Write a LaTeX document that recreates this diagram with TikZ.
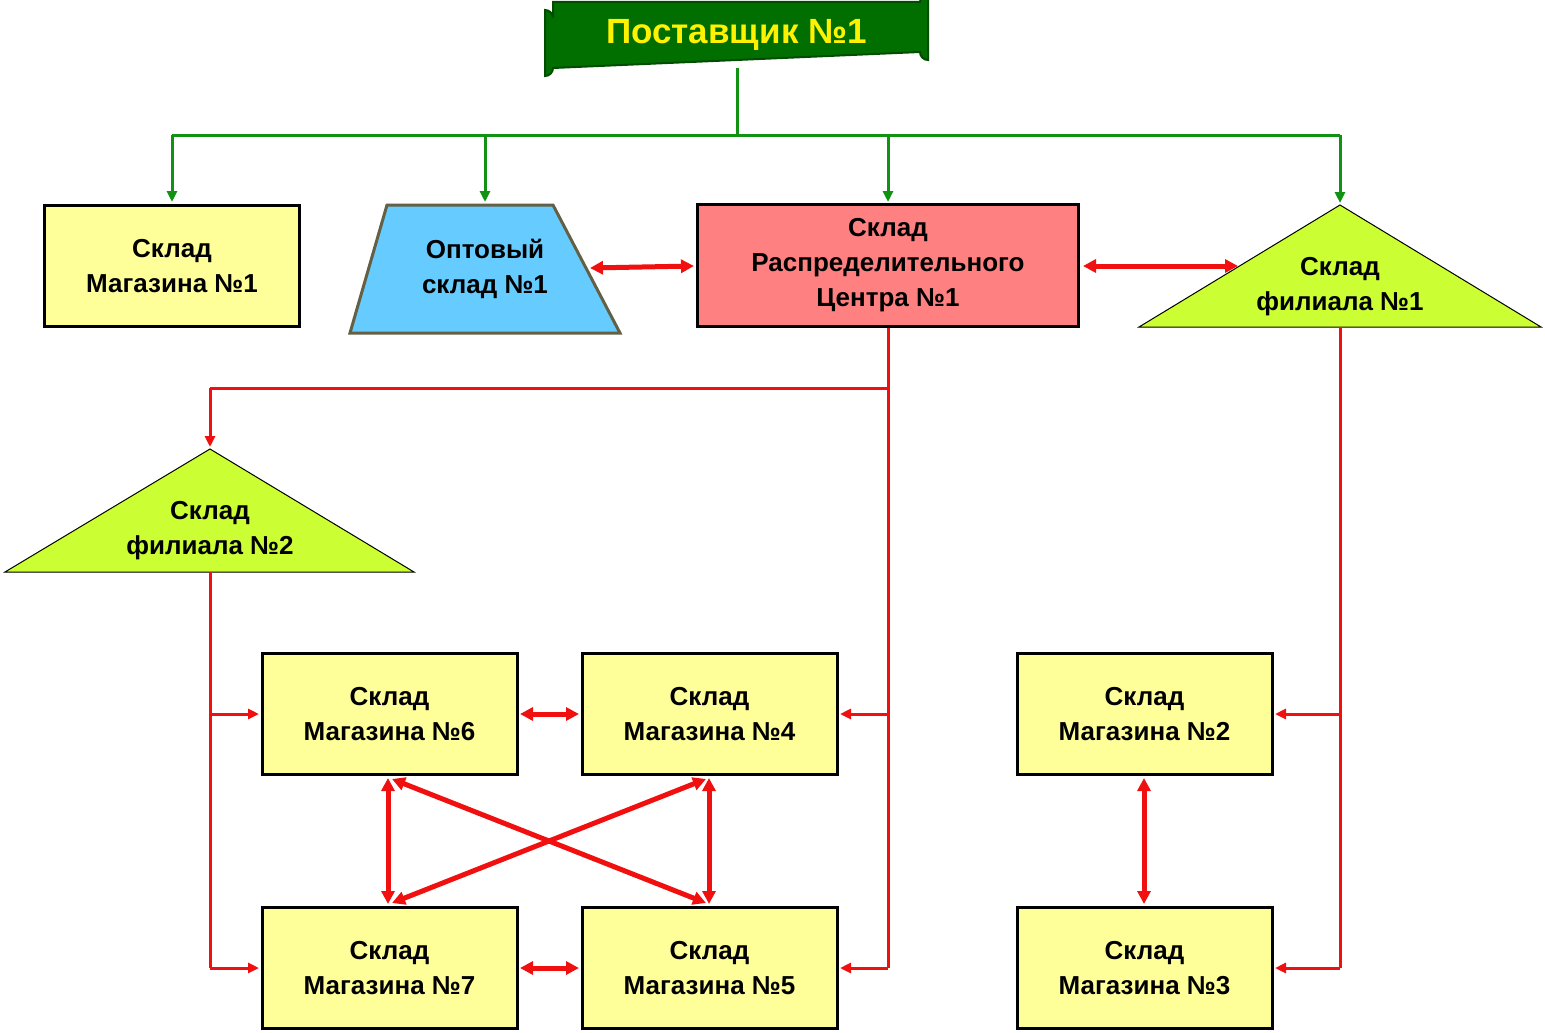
\documentclass[tikz,border=0pt]{standalone}
\usepackage{fontspec}
\setmainfont{Liberation Sans}
\usetikzlibrary{arrows.meta}
\definecolor{boxy}{HTML}{FFFF99}
\definecolor{rc}{HTML}{FF8080}
\definecolor{opt}{HTML}{66CCFF}
\definecolor{fil}{HTML}{CCFF33}
\definecolor{gline}{HTML}{129212}
\definecolor{top}{HTML}{006F00}
\definecolor{rline}{HTML}{F01010}
\begin{document}
\begin{tikzpicture}[x=1pt,y=-1pt,
 txt/.style={font=\bfseries\fontsize{26}{35}\selectfont, align=center, inner sep=0},
 box/.style={txt, draw, line width=3pt, fill=boxy, minimum width=255pt, minimum height=121pt},
 g/.style={gline, line width=3pt, -{Triangle[length=11pt,width=10pt]}},
 r/.style={rline, line width=3pt, -{Triangle[length=11pt,width=10pt]}},
 rr/.style={rline, line width=5pt, {Triangle[length=13pt,width=13pt]}-{Triangle[length=13pt,width=13pt]}}]
\useasboundingbox (0,0) rectangle (1545,1033);
% top plaque
\fill[top,draw=black!70!green,line width=2pt] (553,2) -- (920,2) arc[start angle=180,end angle=270,radius=8] -- (928,60) arc[start angle=90,end angle=180,radius=8] -- (553,68) arc[start angle=0,end angle=90,radius=8] -- (545,10) arc[start angle=270,end angle=360,radius=8] -- cycle;
\node[txt, text=yellow, font=\bfseries\fontsize{35}{40}\selectfont] (P) at (736.5,35) {Поставщик №1};
% boxes
\node[box] (M1) at (172,266) {Склад\\Магазина №1};
\node[box, fill=rc, minimum width=381pt, minimum height=122pt] (RC) at (888,265.5) {Склад\\Распределительного\\Центра №1};
\draw[line width=3pt, draw=black!70!yellow, fill=opt] (350,333) -- (387,205) -- (553,205) -- (620,333) -- cycle;
\node[txt] (O) at (485,269) {Оптовый\\склад №1};
\draw[line width=1pt, fill=fil] (1139,327) -- (1340,205) -- (1541,327) -- cycle;
\node[txt] (F1) at (1340,287) {Склад\\филиала №1};
\draw[line width=1pt, fill=fil] (5,572) -- (210,449) -- (414,572) -- cycle;
\node[txt] (F2) at (210,531) {Склад\\филиала №2};
\node[box] (M6) at (389.5,714) {Склад\\Магазина №6};
\node[box] (M4) at (709.5,714) {Склад\\Магазина №4};
\node[box] (M2) at (1144.5,714) {Склад\\Магазина №2};
\node[box] (M7) at (389.5,968) {Склад\\Магазина №7};
\node[box] (M5) at (709.5,968) {Склад\\Магазина №5};
\node[box] (M3) at (1144.5,968) {Склад\\Магазина №3};
% green
\draw[gline,line width=3pt] (737,68) -- (737,135) (172,135) -- (1340,135);
\draw[g] (172,135) -- (172,202);
\draw[g] (485,135) -- (485,202);
\draw[g] (888,135) -- (888,202);
\draw[g] (1340,135) -- (1340,203);
% red
\draw[rr] (590,268) -- (694,266);
\draw[rr] (1083,266) -- (1238,266);
\draw[rline,line width=3pt] (888,328) -- (888,968) (888,388) -- (210,388);
\draw[r] (210,388) -- (210,447);
\draw[r] (888,714) -- (840,714);
\draw[r] (888,968) -- (840,968);
\draw[rline,line width=3pt] (210,572) -- (210,968);
\draw[r] (210,714) -- (259,714);
\draw[r] (210,968) -- (259,968);
\draw[rline,line width=3pt] (1340,328) -- (1340,968);
\draw[r] (1340,714) -- (1275,714);
\draw[r] (1340,968) -- (1275,968);
\draw[rr] (520,714) -- (579,714);
\draw[rr] (520,968) -- (579,968);
\draw[rr] (388,778) -- (388,904);
\draw[rr] (709,778) -- (709,904);
\draw[rr] (392,779) -- (706,903);
\draw[rr] (706,779) -- (392,903);
\draw[rr] (1144,778) -- (1144,904);
\end{tikzpicture}
\end{document}
